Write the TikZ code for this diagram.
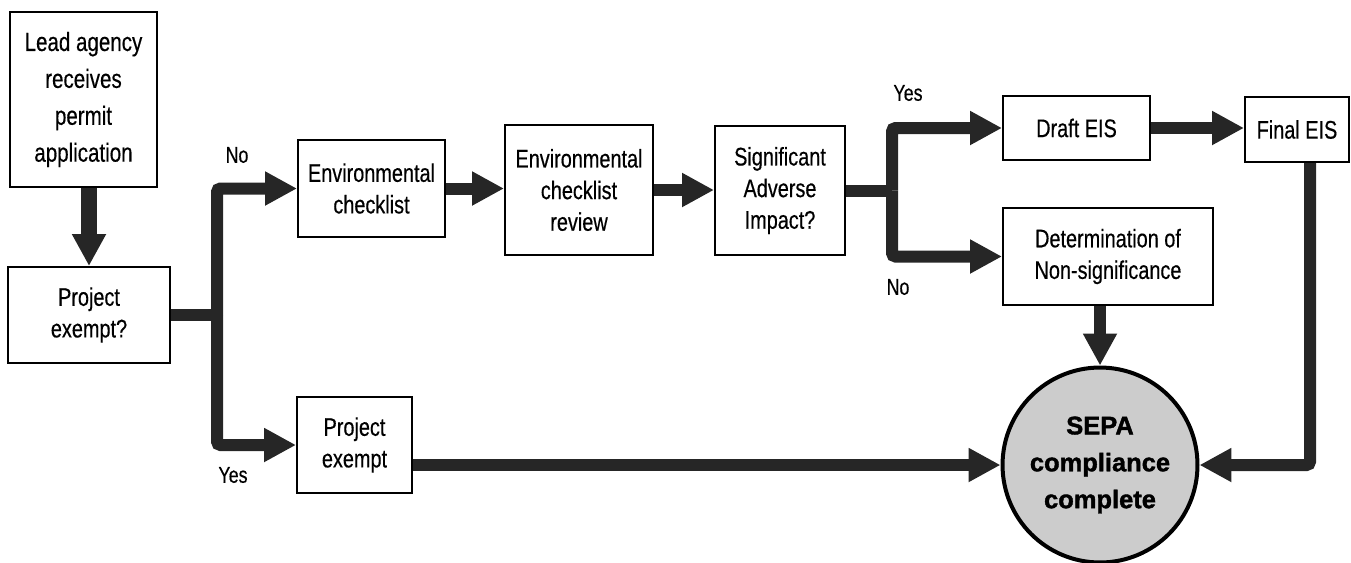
\documentclass[tikz,border=0pt]{standalone}
\usepackage{fontspec}
\setmainfont{Liberation Sans}[FakeStretch=0.78,FakeBold=0.4]
\newfontfamily\sepafont{Liberation Sans}[FakeBold=1.5]
\usetikzlibrary{arrows.meta}

\begin{document}
\begin{tikzpicture}[x=0.02cm,y=-0.02cm,>={Triangle[length=0.64cm,width=0.64cm]},
                    box/.style={draw,line width=0.04cm,align=center,inner sep=0pt,
                                font=\fontsize{14.5}{18}\selectfont},
                    flow/.style={->,line width=0.24cm,draw=black!85,rounded corners=2pt},
                    lbl/.style={font=\fontsize{13}{15}\selectfont},
                    sepa/.style={circle,draw,line width=0.08cm,fill=black!20,minimum size=3.9cm,
                                 inner sep=0pt,align=center,
                                 font=\sepafont\bfseries\fontsize{14.5}{21}\selectfont}]

  \useasboundingbox (0,0) rectangle (1351,562);

  	\node[box,minimum width=2.94cm,minimum height=3.5cm,font=\fontsize{15}{21}\selectfont]
  	      (lead)    at (83.5,99.5)   {Lead agency\\receives\\permit\\application};
  	\node[box,minimum width=3.24cm,minimum height=1.92cm] (exempt)  at (89,315)      {Project\\exempt?};
	\node[box,minimum width=2.94cm,minimum height=1.94cm] (check)   at (371.5,188.5) {Environmental\\checklist};
	\node[box,minimum width=2.96cm,minimum height=2.6cm]  (review)  at (579,190)     {Environmental\\checklist\\review};
	\node[box,minimum width=2.6cm,minimum height=2.58cm]  (impact)  at (780,190.5)   {Significant\\Adverse\\Impact?};
	\node[box,minimum width=2.94cm,minimum height=1.28cm] (draft)   at (1076.5,128)  {Draft EIS};
	\node[box,minimum width=2.08cm,minimum height=1.3cm]  (final)   at (1297,129.5)  {Final EIS};
	\node[box,minimum width=4.2cm,minimum height=1.94cm]  (dns)     at (1108,256.5)  {Determination of\\Non-significance};
	\node[box,minimum width=2.3cm,minimum height=1.92cm]  (pexempt) at (354.5,445)   {Project\\exempt};
	\node[sepa] (done) at (1100,465) {SEPA\\compliance\\complete};

	\node[lbl] (noA)  at (237,155) {No};
	\node[lbl] (yesA) at (233,475) {Yes};
	\node[lbl] (yesB) at (908,93)  {Yes};
	\node[lbl] (noB)  at (898,287) {No};

	\coordinate (forkA) at (217,315);
	\coordinate (forkB) at (892,190.5);
	\coordinate (bend)  at (1310,465);

	\draw[flow,line width=0.34cm] (exempt.north |- lead.south) -- (exempt.north);
	\draw[flow,-] (exempt) -- (forkA);
	\draw[flow] (forkA) |- (check);
	\draw[flow] (forkA) |- (pexempt);
	\draw[flow] (check.east) -- (check.east -| review.west);
	\draw[flow] (review.east) -- (review.east -| impact.west);
	\draw[flow,-] (impact) -- (forkB);
	\draw[flow] (forkB) |- (draft);
	\draw[flow] (forkB) |- (dns);
	\draw[flow] (draft.east) -- (draft.east -| final.west);
	\draw[flow] (done.north |- dns.south) -- (done.north);
	\draw[flow] (bend |- final.south) -- (bend) -- (done.east);
	\draw[flow] (pexempt.east |- done) -- (done.west);

\end{tikzpicture}
\end{document}
